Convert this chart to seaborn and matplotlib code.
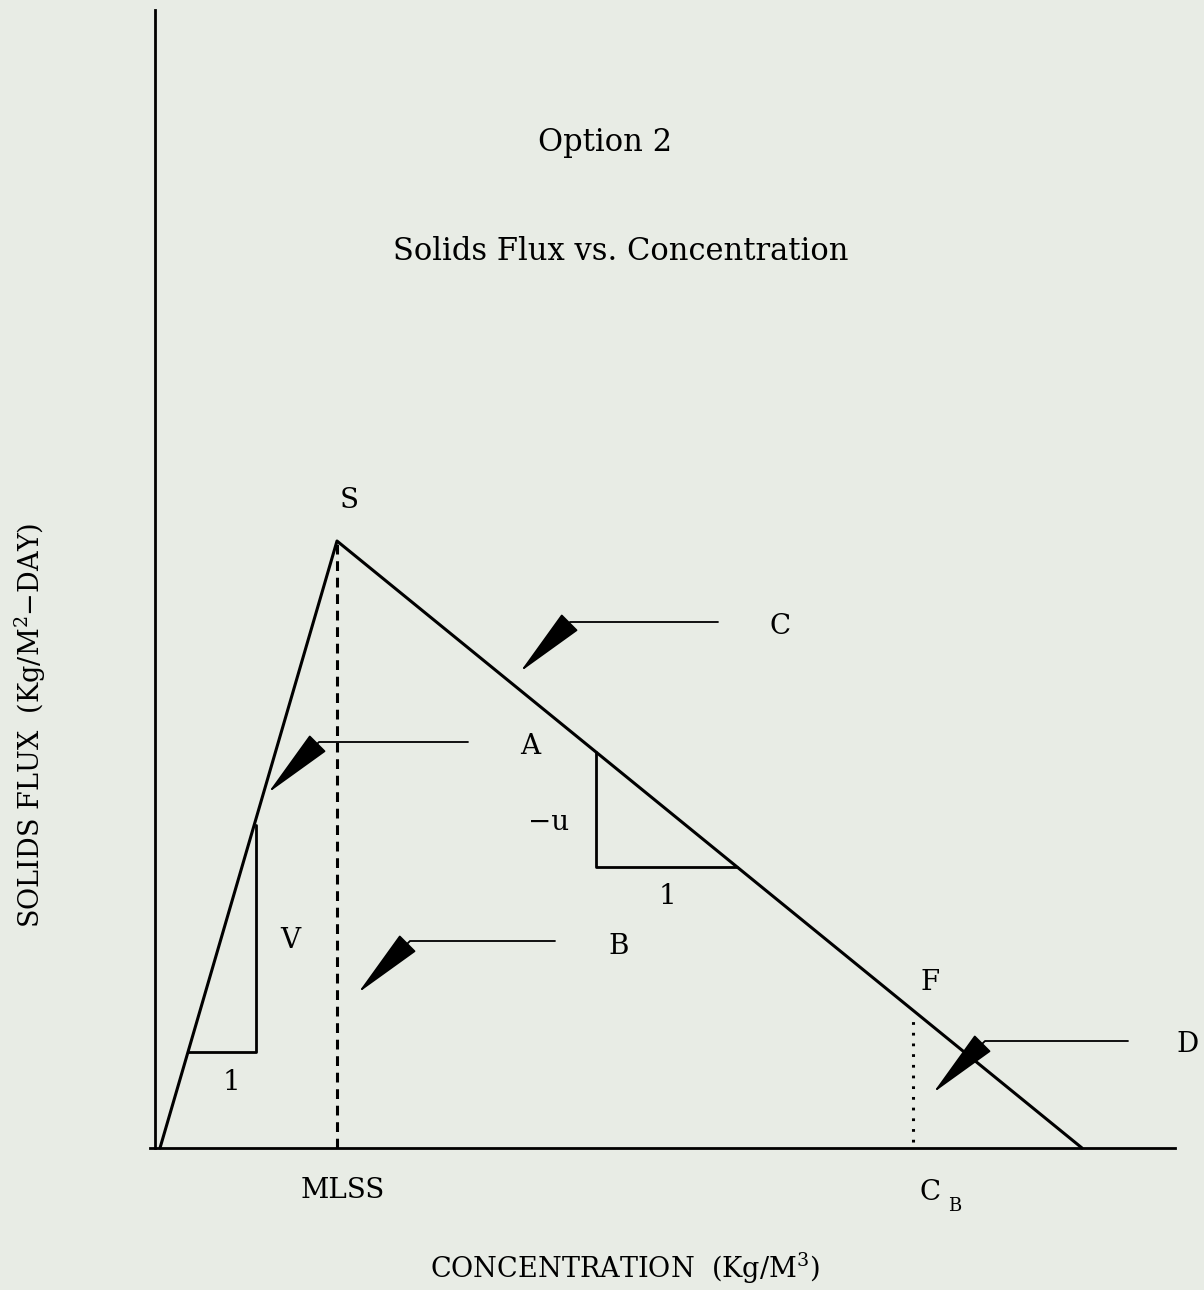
import matplotlib
matplotlib.use('Agg')
import matplotlib.pyplot as plt
import seaborn as sns
import pandas as pd

# Schematic flux curve (arbitrary concentration / flux units)
conc = [0.5, 18.2, 92.7]
flux = [0.0, 60.7, 0.0]
mlss = 18.2
c_b = 75.8
c_b_top = 13.3

# slope triangles: (x_left, x_right, y_base)
tri_v = [3.3, 10.1, 9.6]      # settling side, V over 1
tri_u = [44.1, 58.2]          # underflow side, -u over 1

# arrows: label, tip, start of leader line, label position
arrow_names = ['C', 'A', 'B', 'D']
arrow_tips = [(36.5, 47.6), (11.3, 35.5), (20.3, 15.5), (77.8, 5.5)]
arrow_tails = [(56.3, 52.6), (31.3, 40.6), (40.0, 20.7), (97.3, 10.7)]
arrow_labels = [(62.5, 52.2), (37.5, 40.1), (46.4, 20.2), (103.3, 10.3)]

bg = '#e8ece5'
sns.set_theme(style='white')
plt.rcParams['font.family'] = ['DejaVu Serif']
plt.rcParams['mathtext.fontset'] = 'dejavuserif'
plt.rcParams['text.color'] = 'black'

fig = plt.figure(figsize=(12.04, 12.90), dpi=100, facecolor=bg)
ax = fig.add_axes([155 / 1204, 142 / 1290, 1020 / 1204, 1138 / 1290])
ax.set_facecolor(bg)
ax.set_xlim(0, 102)
ax.set_ylim(0, 113.8)
for s in ['top', 'right']:
    ax.spines[s].set_visible(False)
for s in ['left', 'bottom']:
    ax.spines[s].set_color('black')
    ax.spines[s].set_linewidth(2.0)
ax.spines['bottom'].set_bounds(-0.5, 102)
ax.set_xticks([])
ax.set_yticks([])

df = pd.DataFrame({'conc': conc, 'flux': flux})
sns.lineplot(data=df, x='conc', y='flux', color='black', lw=2.2, ax=ax,
             sort=False, clip_on=False)


def on_rise(x):
    return flux[1] * (x - conc[0]) / (conc[1] - conc[0])


def on_fall(x):
    return flux[1] * (conc[2] - x) / (conc[2] - conc[1])


# MLSS dashed and C_B dotted verticals
ax.plot([mlss, mlss], [0, flux[1]], color='black', lw=2.2, ls=(0, (3.2, 2.2)))
ax.plot([c_b, c_b], [0.6, c_b_top], color='black', lw=2.2, ls=(0, (0.9, 2.6)))

# slope triangles
ax.plot([tri_v[0], tri_v[1], tri_v[1]], [tri_v[2], tri_v[2], on_rise(tri_v[1]) - 0.6],
        color='black', lw=2.0)
ax.plot([tri_u[0], tri_u[0], tri_u[1]], [on_fall(tri_u[0]), on_fall(tri_u[1]), on_fall(tri_u[1])],
        color='black', lw=2.0)

# callout arrows
for name, tip, tail, lab in zip(arrow_names, arrow_tips, arrow_tails, arrow_labels):
    ax.annotate('', xy=tip, xytext=tail, annotation_clip=False,
                arrowprops=dict(arrowstyle='-|>,head_length=4.6,head_width=0.75',
                                connectionstyle='angle,angleA=0,angleB=45,rad=0',
                                color='black', lw=1.3, mutation_scale=10,
                                shrinkA=0, shrinkB=0))
    ax.text(lab[0], lab[1], name, fontsize=20, ha='center', va='center', clip_on=False)

txt = dict(fontsize=20, ha='center', va='center', clip_on=False)
ax.text(19.4, 64.7, 'S', **txt)
ax.text(13.5, 20.8, 'V', **txt)
ax.text(7.6, 6.6, '1', **txt)
ax.text(39.4, 32.6, '\u2212u', **txt)
ax.text(51.2, 25.2, '1', **txt)
ax.text(77.5, 16.5, 'F', **txt)
ax.text(18.8, -4.2, 'MLSS', **txt)
ax.text(77.5, -4.5, 'C', **txt)
ax.text(80.0, -5.8, 'B', fontsize=13, ha='center', va='center', clip_on=False)

ax.text(45.0, 100.5, 'Option 2', fontsize=22, ha='center', va='center', clip_on=False)
ax.text(46.6, 89.6, 'Solids Flux vs. Concentration', fontsize=22, ha='center', va='center',
        clip_on=False)
ax.text(47.0, -12.0, 'CONCENTRATION  (Kg/M$^3$)', fontsize=19.5, ha='center', va='center',
        clip_on=False)
ax.text(-12.5, 42.3, 'SOLIDS FLUX  (Kg/M$^2$\u2212DAY)', rotation=90, fontsize=19.5,
        ha='center', va='center', clip_on=False)

plt.savefig('out.png', dpi=100, facecolor=bg)
